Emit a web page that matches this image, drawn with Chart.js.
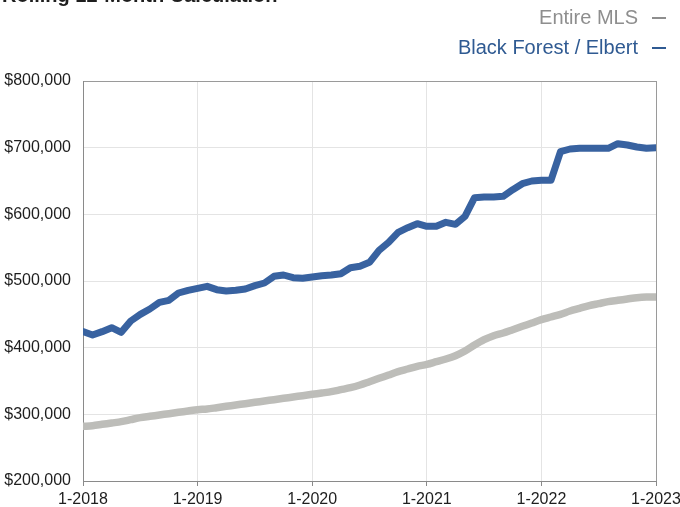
<!DOCTYPE html>
<html>
<head>
<meta charset="utf-8">
<title>Median Sales Price – Rolling 12-Month Calculation</title>
<script src="https://cdn.jsdelivr.net/npm/chart.js@4/dist/chart.umd.min.js"></script>
<style>
  html, body { margin: 0; padding: 0; background: #ffffff; }
  #wrap { width: 680px; height: 507px; position: relative; }
</style>
</head>
<body>
<div id="wrap"><canvas id="chart"></canvas></div>
<script>
// Monthly rolling 12-month median sales price, 1-2018 through 1-2023
const yearTicks = ['1-2018', '1-2019', '1-2020', '1-2021', '1-2022', '1-2023'];

const entireMLS = [
  282, 283, 285, 287, 289, 292, 295, 297, 299, 301, 303, 305,
  307, 308, 310, 312, 314, 316, 318, 320, 322, 324, 326, 328,
  330, 332, 334, 337, 340, 344, 349, 354, 359, 364, 368, 372,
  375, 379, 383, 388, 395, 404, 412, 418, 422, 427, 432, 437,
  442, 446, 450, 455, 459, 463, 466, 469, 471, 473, 475, 476,
  476
].map(v => v * 1000);

const blackForestElbert = [
  424, 419, 424, 430, 423, 440, 450, 458, 468, 471, 482, 486,
  489, 492, 487, 485, 486, 488, 493, 497, 507, 509, 505, 504,
  506, 508, 509, 511, 520, 522, 528, 546, 558, 573, 580, 586,
  582, 582, 588, 585, 597, 625, 626, 626, 627, 637, 646, 650,
  651, 651, 694, 698, 699, 699, 699, 699, 706, 704, 701, 699,
  700
].map(v => v * 1000);

const seriesNames = ['Entire MLS', 'Black Forest / Elbert'];
const titleText = 'Rolling 12-Month Calculation';

const FONT = '"Liberation Sans", Arial, Helvetica, sans-serif';
const toXY = arr => arr.map((v, i) => ({ x: i, y: v }));

// Header text and right-aligned series key with a short dash after each name
const headerPlugin = {
  id: 'header',
  afterDraw(chart) {
    const ctx = chart.ctx;
    ctx.save();
    ctx.font = 'bold 20px ' + FONT;
    ctx.fillStyle = '#1e1e1e';
    ctx.textAlign = 'left';
    ctx.textBaseline = 'alphabetic';
    ctx.fillText(titleText, 2, 2);

    ctx.font = '20px ' + FONT;
    ctx.textAlign = 'right';
    ctx.textBaseline = 'middle';
    const rows = [18, 48];
    chart.data.datasets.forEach((ds, i) => {
      const y = rows[i];
      ctx.fillStyle = ds.keyColor;
      ctx.fillText(ds.label, 638, y);
      ctx.strokeStyle = ds.keyColor;
      ctx.lineWidth = 2;
      ctx.beginPath();
      ctx.moveTo(652, y);
      ctx.lineTo(666, y);
      ctx.stroke();
    });
    ctx.restore();
  }
};

new Chart(document.getElementById('chart'), {
  type: 'line',
  data: {
    datasets: [
      {
        label: seriesNames[0],
        data: toXY(entireMLS),
        borderColor: '#bdbdb9',
        keyColor: '#8e8e8e',
        borderWidth: 7.5,
        pointRadius: 0,
        tension: 0.3,
        borderCapStyle: 'round',
        borderJoinStyle: 'round'
      },
      {
        label: seriesNames[1],
        data: toXY(blackForestElbert),
        borderColor: '#3862a0',
        keyColor: '#2f5a92',
        borderWidth: 7,
        pointRadius: 0,
        tension: 0,
        borderCapStyle: 'round',
        borderJoinStyle: 'round'
      }
    ]
  },
  options: {
    responsive: true,
    maintainAspectRatio: false,
    animation: false,
    layout: { padding: { left: 0, top: 81, right: 24, bottom: 0 } },
    plugins: {
      legend: { display: false },
      tooltip: { enabled: false },
      title: { display: false }
    },
    scales: {
      x: {
        type: 'linear',
        min: 0,
        max: 60,
        afterFit: s => { s.height = 26; s.paddingLeft = 0; s.paddingRight = 0; },
        afterBuildTicks: s => {
          s.ticks = yearTicks.map((_, i) => ({ value: i * 12 }));
        },
        ticks: {
          autoSkip: false,
          maxRotation: 0,
          padding: 4,
          color: '#1e1e1e',
          font: { family: FONT, size: 16 },
          callback: v => yearTicks[Math.round(v / 12)]
        },
        grid: {
          drawTicks: true,
          tickLength: 5,
          tickColor: '#8a8a8a',
          color: c => (c.tick && c.tick.value === 60) ? '#9a9a9a' : '#e4e4e4',
          lineWidth: 1
        },
        border: { display: true, color: '#8a8a8a', width: 1 }
      },
      y: {
        min: 200000,
        max: 800000,
        afterFit: s => { s.width = 83; s.paddingTop = 0; s.paddingBottom = 0; },
        ticks: {
          stepSize: 100000,
          padding: 12,
          color: '#1e1e1e',
          font: { family: FONT, size: 16 },
          callback: v => '$' + Number(v).toLocaleString('en-US')
        },
        grid: {
          drawTicks: false,
          color: c => (c.tick && c.tick.value === 800000) ? '#9a9a9a' : '#e4e4e4',
          lineWidth: 1
        },
        border: { display: true, color: '#8a8a8a', width: 1 }
      }
    }
  },
  plugins: [headerPlugin]
});
</script>
</body>
</html>
